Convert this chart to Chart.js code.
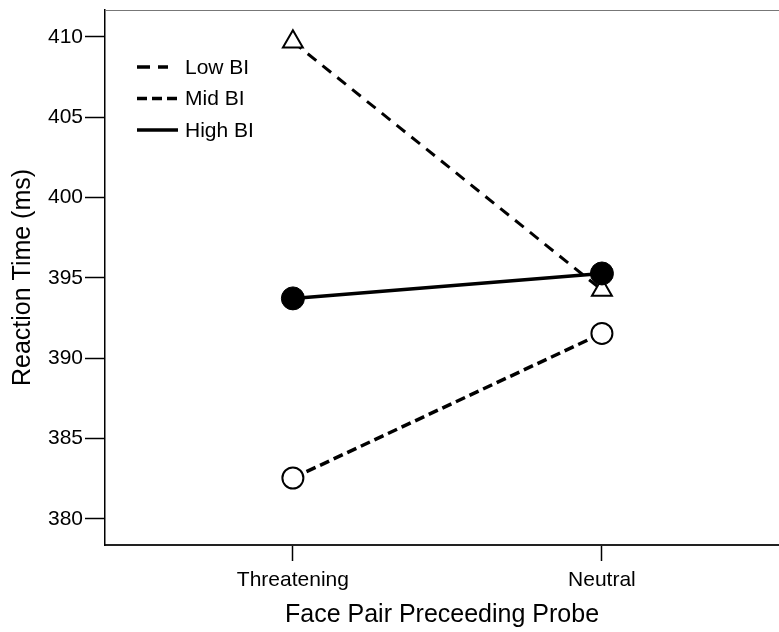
<!DOCTYPE html>
<html>
<head>
<meta charset="utf-8">
<script src="https://cdn.jsdelivr.net/npm/chart.js@4/dist/chart.umd.min.js"></script>
<style>
  html, body { margin: 0; padding: 0; background: #ffffff; }
  #wrap { width: 779px; height: 632px; }
</style>
</head>
<body>
<div id="wrap"><canvas id="c" width="779" height="632"></canvas></div>
<script>
// ---- data ----
const categories = ['Threatening', 'Neutral'];
const seriesNames = ['Low BI', 'Mid BI', 'High BI'];
const lowBI  = [409.7, 394.25];
const midBI  = [382.55, 391.55];
const highBI = [393.73, 395.28];
const yTicks = [380, 385, 390, 395, 400, 405, 410];
const xTitle = 'Face Pair Preceeding Probe';
const yTitle = 'Reaction Time (ms)';

const FONT = "'Liberation Sans', Arial, sans-serif";
const toPts = arr => arr.map((v, i) => ({ x: i, y: v }));

const legendPlugin = {
  id: 'insideLegend',
  afterDraw(chart) {
    const ctx = chart.ctx;
    const ca = chart.chartArea;
    // thin top border of the plot frame
    ctx.save();
    ctx.strokeStyle = '#777';
    ctx.lineWidth = 1;
    ctx.beginPath();
    ctx.moveTo(ca.left, ca.top + 0.5);
    ctx.lineTo(ca.right, ca.top + 0.5);
    ctx.stroke();
    // legend
    const items = [
      { ds: 0, dash: [13, 8], len: 31 },
      { ds: 1, dash: [10, 5], len: 41 },
      { ds: 2, dash: [], len: 41 }
    ];
    const x0 = 137, textX = 185, y0 = 67, dy = 31.5;
    items.forEach((it, k) => {
      const ds = chart.data.datasets[it.ds];
      const y = y0 + k * dy;
      ctx.strokeStyle = '#000';
      ctx.lineWidth = 3.5;
      ctx.setLineDash(it.dash);
      ctx.beginPath();
      ctx.moveTo(x0, y);
      ctx.lineTo(x0 + it.len, y);
      ctx.stroke();
      ctx.setLineDash([]);
      ctx.fillStyle = '#000';
      ctx.font = '21px ' + FONT;
      ctx.textBaseline = 'middle';
      ctx.textAlign = 'left';
      ctx.fillText(ds.label, textX, y + 1);
    });
    ctx.restore();
  }
};

new Chart(document.getElementById('c'), {
  type: 'line',
  data: {
    datasets: [
      {
        label: seriesNames[0], data: toPts(lowBI), order: 2,
        borderColor: '#000', borderWidth: 3, borderDash: [11, 8],
        pointStyle: 'triangle', pointRadius: 11.5, pointBorderWidth: 2,
        pointBackgroundColor: '#fff', pointBorderColor: '#000'
      },
      {
        label: seriesNames[1], data: toPts(midBI), order: 1,
        borderColor: '#000', borderWidth: 3.5, borderDash: [10, 5],
        pointStyle: 'circle', pointRadius: 10.5, pointBorderWidth: 2,
        pointBackgroundColor: '#fff', pointBorderColor: '#000'
      },
      {
        label: seriesNames[2], data: toPts(highBI), order: 0,
        borderColor: '#000', borderWidth: 3.5, borderDash: [],
        pointStyle: 'circle', pointRadius: 11.5, pointBorderWidth: 1,
        pointBackgroundColor: '#000', pointBorderColor: '#000'
      }
    ]
  },
  options: {
    responsive: false,
    animation: false,
    devicePixelRatio: 1,
    layout: { autoPadding: false, padding: { top: 10, left: 0, right: 0, bottom: 0 } },
    plugins: { legend: { display: false }, tooltip: { enabled: false } },
    elements: { line: { tension: 0 } },
    scales: {
      x: {
        type: 'linear',
        min: -0.608, max: 1.573,
        afterBuildTicks: s => { s.ticks = categories.map((c, i) => ({ value: i })); },
        afterFit: s => { s.height = 87; s.paddingLeft = 0; s.paddingRight = 0; },
        ticks: {
          color: '#000', padding: 7,
          font: { family: FONT, size: 21 },
          callback: v => categories[v]
        },
        grid: { drawOnChartArea: false, drawTicks: true, tickLength: 16, tickColor: '#000', tickWidth: 1.5 },
        border: { display: true, color: '#222', width: 2 },
        title: { display: true, text: xTitle, color: '#000', font: { family: FONT, size: 25 }, padding: { top: 0, bottom: 2 } }
      },
      y: {
        type: 'linear',
        min: 378.38, max: 411.68,
        afterBuildTicks: s => { s.ticks = yTicks.map(v => ({ value: v })); },
        afterFit: s => { s.width = 105; s.paddingTop = 0; s.paddingBottom = 0; },
        ticks: { color: '#000', padding: 2, font: { family: FONT, size: 21 } },
        grid: { drawOnChartArea: false, drawTicks: true, tickLength: 20, tickColor: '#000', tickWidth: 1.5 },
        border: { display: true, color: '#000', width: 1.5 },
        title: { display: true, text: yTitle, color: '#000', font: { family: FONT, size: 25 }, padding: { top: 8, bottom: 0 } }
      }
    }
  },
  plugins: [legendPlugin]
});
</script>
</body>
</html>
